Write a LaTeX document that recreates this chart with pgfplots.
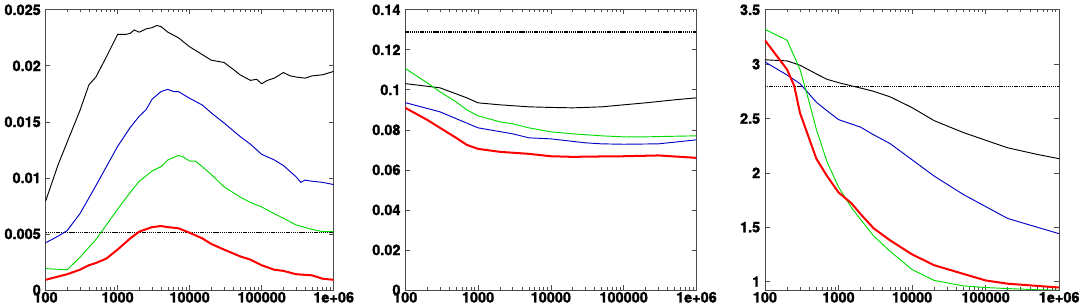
\documentclass[border=0pt]{standalone}
\usepackage{fontspec}
\setmainfont{TeX Gyre Heros}[BoldFeatures={FakeBold=1.5}]
\usepackage{pgfplots}
\pgfplotsset{compat=1.18}
\definecolor{cblue}{rgb}{0,0,0.78}
\definecolor{cgreen}{rgb}{0,0.86,0}
\pgfplotsset{
  mypanel/.style={
    scale only axis, width=214.5pt, height=208.5pt,
    xmin=100, xmax=1000000,
    xtick={100,1000,10000,100000,1000000},
    xticklabels={\textbf{100},\textbf{1000},\textbf{10000},\textbf{100000},\textbf{1e+06}},
    minor xtick={200,300,400,500,600,700,800,900,2000,3000,4000,5000,6000,7000,8000,9000,20000,30000,40000,50000,60000,70000,80000,90000,200000,300000,400000,500000,600000,700000,800000,900000},
    tick align=inside, major tick length=3.5pt, minor tick length=2pt,
    xtick pos=both, ytick pos=both,
    axis line style={draw=black!70, line width=0.5pt},
    tick style={black!70, line width=0.5pt},
    tick label style={font=\fontsize{10.8}{12}\selectfont\bfseries},
    /pgf/number format/assume math mode=true,
    scaled y ticks=false,
    xticklabel style={yshift=2pt},
  },
  blk/.style={black, line width=0.7pt},
  blu/.style={cblue, line width=0.7pt},
  grn/.style={cgreen, line width=0.7pt},
  rd/.style={red, line width=1.5pt},
  dot/.style={black, line width=0.8pt, dash pattern=on 1pt off 0.6pt},
}
\begin{document}
\begin{tikzpicture}
% Panel 1
\begin{semilogxaxis}[mypanel, at={(35.25pt,0)}, ymin=0, ymax=0.025,
  ytick={0,0.005,0.01,0.015,0.02,0.025},
  yticklabels={\textbf{0},\textbf{0.005},\textbf{0.01},\textbf{0.015},\textbf{0.02},\textbf{0.025}}]
\addplot[dot] coordinates {(100,0.0051) (1000000,0.0051)};
\addplot[blk] coordinates {(100,0.0079) (150,0.0112) (200,0.0132) (300,0.0160) (400,0.0183) (500,0.0190) (700,0.0208) (1000,0.0228) (1300,0.0228) (1500,0.0229) (1700,0.0232) (2000,0.0230) (2500,0.0233) (3000,0.0234) (3500,0.0236) (4000,0.0235) (5000,0.0230) (7000,0.0225) (10000,0.0217) (15000,0.0210) (20000,0.0205) (30000,0.0203) (40000,0.0197) (50000,0.0192) (70000,0.0187) (85000,0.0188) (100000,0.0184) (120000,0.0187) (150000,0.0189) (200000,0.0194) (250000,0.0191) (300000,0.0190) (400000,0.0189) (500000,0.0191) (700000,0.0192) (1000000,0.0195)};
\addplot[blu] coordinates {(100,0.0042) (150,0.0048) (200,0.0053) (300,0.0068) (400,0.0082) (500,0.0093) (700,0.0110) (1000,0.0128) (1500,0.0145) (2000,0.0155) (2500,0.0161) (3000,0.0170) (4000,0.0177) (5000,0.0179) (6000,0.0177) (7000,0.0177) (10000,0.0171) (15000,0.0165) (20000,0.0158) (30000,0.0149) (50000,0.0137) (70000,0.0130) (100000,0.0121) (150000,0.0116) (200000,0.0111) (300000,0.0101) (350000,0.0096) (400000,0.0098) (500000,0.0097) (700000,0.0096) (1000000,0.0094)};
\addplot[grn] coordinates {(100,0.0019) (200,0.0018) (300,0.0029) (500,0.0045) (700,0.0058) (1000,0.0072) (1500,0.0087) (2000,0.0097) (3000,0.0106) (4000,0.0110) (5000,0.0116) (7000,0.0120) (8000,0.0119) (10000,0.0115) (12000,0.0115) (15000,0.0110) (20000,0.0103) (30000,0.0092) (50000,0.0083) (70000,0.0078) (100000,0.0074) (150000,0.0068) (200000,0.0064) (300000,0.0058) (500000,0.0054) (700000,0.0052) (1000000,0.0052)};
\addplot[rd] coordinates {(100,0.0009) (200,0.0014) (300,0.0018) (400,0.0022) (500,0.0024) (700,0.0028) (1000,0.0036) (1500,0.0046) (2000,0.0052) (3000,0.0056) (4000,0.0057) (5000,0.0056) (7000,0.0055) (10000,0.0051) (15000,0.0046) (20000,0.0041) (30000,0.0036) (50000,0.0030) (70000,0.0027) (100000,0.0022) (150000,0.0018) (200000,0.0017) (300000,0.0014) (500000,0.0013) (700000,0.0010) (1000000,0.0009)};
\end{semilogxaxis}
% Panel 2
\begin{semilogxaxis}[mypanel, at={(303pt,0)}, width=216.75pt, ymin=0, ymax=0.14,
  ytick={0,0.02,0.04,0.06,0.08,0.1,0.12,0.14},
  yticklabels={\textbf{0},\textbf{0.02},\textbf{0.04},\textbf{0.06},\textbf{0.08},\textbf{0.1},\textbf{0.12},\textbf{0.14}}]
\addplot[dot] coordinates {(100,0.1289) (1000000,0.1289)};
\addplot[blk] coordinates {(100,0.1031) (300,0.1010) (500,0.0980) (700,0.0960) (1000,0.0935) (2000,0.0925) (5000,0.0915) (10000,0.0912) (20000,0.0910) (30000,0.0912) (50000,0.0915) (100000,0.0925) (200000,0.0935) (500000,0.0950) (1000000,0.0960)};
\addplot[grn] coordinates {(100,0.1107) (200,0.1035) (300,0.0990) (500,0.0940) (700,0.0900) (1000,0.0870) (2000,0.0840) (3000,0.0830) (5000,0.0810) (10000,0.0790) (20000,0.0780) (50000,0.0770) (100000,0.0765) (200000,0.0765) (500000,0.0768) (1000000,0.0770)};
\addplot[blu] coordinates {(100,0.0936) (300,0.0890) (1000,0.0810) (3000,0.0780) (5000,0.0760) (10000,0.0755) (30000,0.0735) (50000,0.0730) (100000,0.0728) (300000,0.0730) (1000000,0.0750)};
\addplot[rd] coordinates {(100,0.0910) (200,0.0850) (300,0.0810) (500,0.0760) (700,0.0725) (1000,0.0705) (2000,0.0690) (5000,0.0680) (10000,0.0668) (20000,0.0665) (50000,0.0667) (100000,0.0668) (300000,0.0672) (1000000,0.0660)};
\end{semilogxaxis}
% Panel 3
\begin{semilogxaxis}[mypanel, at={(570.75pt,0)}, width=219pt, ymin=0.923, ymax=3.5,
  ytick={1,1.5,2,2.5,3,3.5},
  yticklabels={\textbf{1},\textbf{1.5},\textbf{2},\textbf{2.5},\textbf{3},\textbf{3.5}}]
\addplot[dot] coordinates {(100,2.796) (1000000,2.796)};
\addplot[blk] coordinates {(100,3.04) (200,3.03) (300,2.99) (500,2.91) (700,2.86) (1000,2.83) (1500,2.80) (2000,2.78) (3000,2.75) (5000,2.70) (10000,2.60) (20000,2.48) (50000,2.37) (100000,2.30) (200000,2.23) (500000,2.17) (1000000,2.13)};
\addplot[blu] coordinates {(100,3.02) (200,2.90) (300,2.82) (500,2.65) (700,2.57) (1000,2.49) (2000,2.42) (3000,2.35) (5000,2.27) (10000,2.12) (20000,1.97) (50000,1.80) (100000,1.69) (200000,1.58) (500000,1.50) (1000000,1.44)};
\addplot[grn] coordinates {(100,3.32) (200,3.22) (300,2.95) (400,2.65) (500,2.40) (700,2.10) (1000,1.87) (1500,1.68) (2000,1.57) (3000,1.42) (5000,1.28) (10000,1.11) (20000,1.01) (50000,0.96) (100000,0.945) (200000,0.935) (500000,0.925) (1000000,0.92)};
\addplot[rd] coordinates {(100,3.22) (200,2.95) (250,2.80) (300,2.55) (500,2.13) (700,1.97) (1000,1.82) (1500,1.72) (2000,1.62) (3000,1.49) (5000,1.38) (10000,1.25) (20000,1.15) (50000,1.07) (100000,1.01) (200000,0.98) (500000,0.96) (1000000,0.945)};
\end{semilogxaxis}
\end{tikzpicture}
\end{document}
